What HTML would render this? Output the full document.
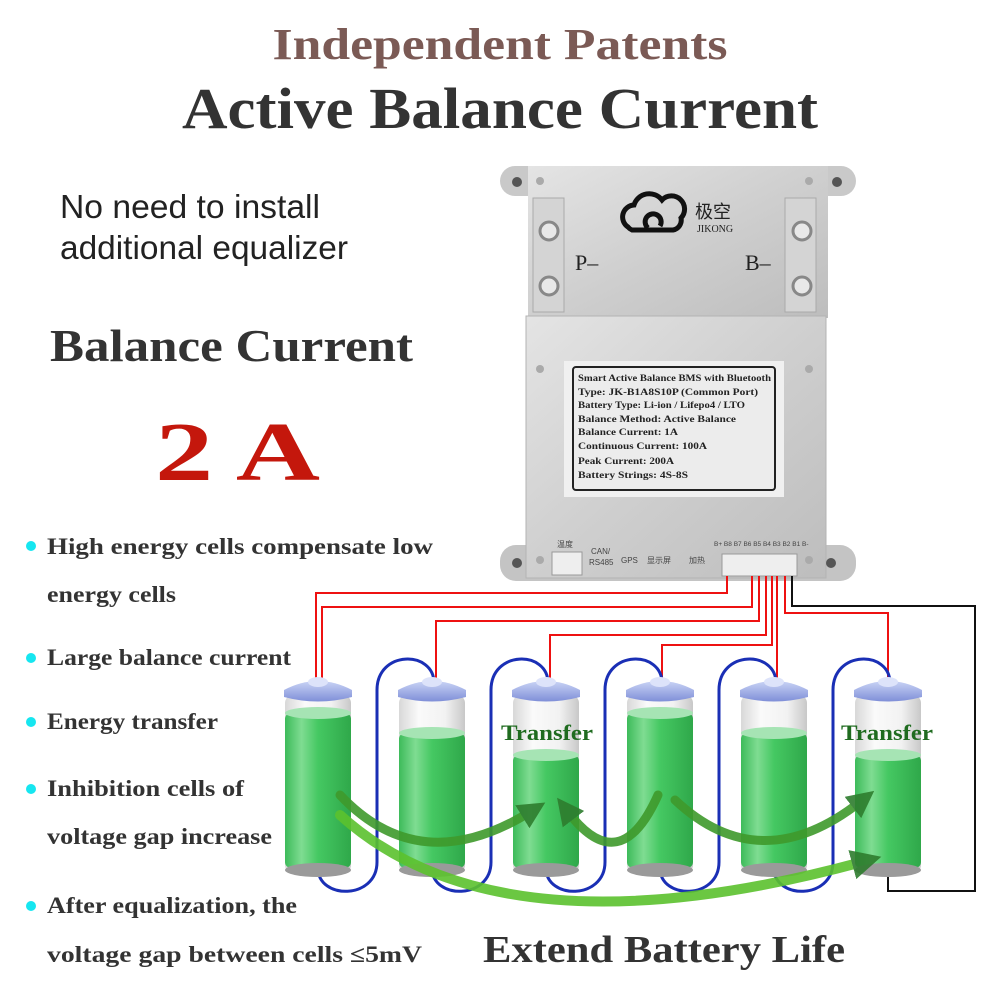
<!DOCTYPE html>
<html><head><meta charset="utf-8"><style>html,body{margin:0;padding:0;background:#fff}svg{display:block}</style></head>
<body>
<svg width="1000" height="1000" viewBox="0 0 1000 1000" xmlns="http://www.w3.org/2000/svg">
<defs>
<linearGradient id="plate" x1="0" y1="0" x2="1" y2="1"><stop offset="0" stop-color="#e4e4e4"/><stop offset="0.5" stop-color="#cfcfcf"/><stop offset="1" stop-color="#bdbdbd"/></linearGradient>
<linearGradient id="glass" x1="0" x2="1"><stop offset="0" stop-color="#d8d8d8"/><stop offset="0.3" stop-color="#fafafa"/><stop offset="0.7" stop-color="#f2f2f2"/><stop offset="1" stop-color="#c8c8c8"/></linearGradient>
<linearGradient id="green" x1="0" x2="1"><stop offset="0" stop-color="#3dbb5a"/><stop offset="0.25" stop-color="#7fdc92"/><stop offset="0.5" stop-color="#45c862"/><stop offset="1" stop-color="#2fa84a"/></linearGradient>
<linearGradient id="cap" x1="0" y1="0" x2="0" y2="1"><stop offset="0" stop-color="#c9d3f5"/><stop offset="1" stop-color="#7f8fd8"/></linearGradient>
<marker id="ah" markerWidth="3" markerHeight="3" refX="1" refY="1.5" orient="auto"><path d="M0,0 L3,1.5 L0,3 Z" fill="#2e7d2e"/></marker>
</defs>
<rect width="1000" height="1000" fill="#fff"/>

<g lengthAdjust="spacingAndGlyphs">
<text x="500" y="59" text-anchor="middle" font-family="Liberation Serif, serif" font-weight="bold" font-size="44" fill="#7b5a55" textLength="455" lengthAdjust="spacingAndGlyphs">Independent Patents</text>
<text x="500" y="128" text-anchor="middle" font-family="Liberation Serif, serif" font-weight="bold" font-size="58" fill="#333" textLength="636" lengthAdjust="spacingAndGlyphs">Active Balance Current</text>
<text x="60" y="218" font-family="Liberation Sans, sans-serif" font-size="33" fill="#222" textLength="260" lengthAdjust="spacingAndGlyphs">No need to install</text>
<text x="60" y="259" font-family="Liberation Sans, sans-serif" font-size="33" fill="#222" textLength="288" lengthAdjust="spacingAndGlyphs">additional equalizer</text>
<text x="50" y="361" font-family="Liberation Serif, serif" font-weight="bold" font-size="46" fill="#333" textLength="363" lengthAdjust="spacingAndGlyphs">Balance Current</text>
<text x="155" y="480" font-family="Liberation Serif, serif" font-weight="bold" font-size="84" fill="#c4170c" textLength="165" lengthAdjust="spacingAndGlyphs">2 A</text>
</g>

<g font-family="Liberation Serif, serif" font-weight="bold" font-size="23" fill="#333">
<circle cx="31" cy="546" r="5" fill="#16e6f0"/><text x="47" y="554" textLength="386" lengthAdjust="spacingAndGlyphs">High energy cells compensate low</text>
<text x="47" y="602" textLength="129" lengthAdjust="spacingAndGlyphs">energy cells</text>
<circle cx="31" cy="658" r="5" fill="#16e6f0"/><text x="47" y="665" textLength="244" lengthAdjust="spacingAndGlyphs">Large balance current</text>
<circle cx="31" cy="722" r="5" fill="#16e6f0"/><text x="47" y="729" textLength="171" lengthAdjust="spacingAndGlyphs">Energy transfer</text>
<circle cx="31" cy="789" r="5" fill="#16e6f0"/><text x="47" y="796" textLength="197" lengthAdjust="spacingAndGlyphs">Inhibition cells of</text>
<text x="47" y="844" textLength="225" lengthAdjust="spacingAndGlyphs">voltage gap increase</text>
<circle cx="31" cy="906" r="5" fill="#16e6f0"/><text x="47" y="913" textLength="250" lengthAdjust="spacingAndGlyphs">After equalization, the</text>
<text x="47" y="962" textLength="375" lengthAdjust="spacingAndGlyphs">voltage gap between cells ≤5mV</text>
</g>
<text x="483" y="962" font-family="Liberation Serif, serif" font-weight="bold" font-size="38" fill="#333" textLength="362" lengthAdjust="spacingAndGlyphs">Extend Battery Life</text>

<g>
<rect x="500" y="166" width="356" height="30" rx="15" fill="#c9c9c9"/>
<rect x="500" y="545" width="356" height="36" rx="16" fill="#c4c4c4"/>
<rect x="528" y="166" width="300" height="152" fill="url(#plate)"/>
<rect x="526" y="316" width="300" height="262" fill="url(#plate)" stroke="#b3b3b3"/>
<circle cx="517" cy="182" r="5" fill="#555"/><circle cx="837" cy="182" r="5" fill="#555"/>
<circle cx="517" cy="563" r="5" fill="#555"/><circle cx="831" cy="563" r="5" fill="#555"/>
<circle cx="540" cy="181" r="4" fill="#aaa"/><circle cx="809" cy="181" r="4" fill="#aaa"/>
<circle cx="540" cy="369" r="4" fill="#aaa"/><circle cx="809" cy="369" r="4" fill="#aaa"/>
<circle cx="540" cy="560" r="4" fill="#aaa"/><circle cx="809" cy="560" r="4" fill="#aaa"/>
<rect x="533" y="198" width="31" height="114" fill="#d4d4d4" stroke="#aaa"/>
<rect x="785" y="198" width="31" height="114" fill="#d4d4d4" stroke="#aaa"/>
<circle cx="549" cy="231" r="9" fill="#e8e8e8" stroke="#888" stroke-width="3"/><circle cx="549" cy="286" r="9" fill="#e8e8e8" stroke="#888" stroke-width="3"/>
<circle cx="802" cy="231" r="9" fill="#e8e8e8" stroke="#888" stroke-width="3"/><circle cx="802" cy="286" r="9" fill="#e8e8e8" stroke="#888" stroke-width="3"/>
<text x="575" y="270" font-family="Liberation Serif, serif" font-size="22" fill="#222">P–</text>
<text x="745" y="270" font-family="Liberation Serif, serif" font-size="22" fill="#222">B–</text>
<g fill="none" stroke="#111" stroke-width="5"><path d="M628,227 a12,12 0 0 1 6,-22 a16,16 0 0 1 28,-5 a12,12 0 0 1 19,18 a10,10 0 0 1 -8,12 L632,230 a10,10 0 0 1 -4,-3z"/><path d="M648,228 a8,8 0 1 1 12,-2"/></g>
<text x="695" y="218" font-family="Noto Sans CJK SC, sans-serif" font-size="18" fill="#222">极空</text>
<text x="697" y="232" font-family="Liberation Serif, serif" font-size="10" fill="#222">JIKONG</text>
<rect x="564" y="361" width="220" height="136" fill="#f0f0f0"/>
<rect x="573" y="367" width="202" height="123" rx="3" fill="#ececec" stroke="#222" stroke-width="2"/>
<g font-family="Liberation Serif, serif" font-weight="bold" font-size="9.5" fill="#222">
<text x="578" y="381" textLength="193" lengthAdjust="spacingAndGlyphs">Smart Active Balance BMS with Bluetooth</text>
<text x="578" y="395" textLength="180" lengthAdjust="spacingAndGlyphs">Type: JK-B1A8S10P (Common Port)</text>
<text x="578" y="408" textLength="167" lengthAdjust="spacingAndGlyphs">Battery Type: Li-ion / Lifepo4 / LTO</text>
<text x="578" y="422" textLength="158" lengthAdjust="spacingAndGlyphs">Balance Method: Active Balance</text>
<text x="578" y="435" textLength="100" lengthAdjust="spacingAndGlyphs">Balance Current: 1A</text>
<text x="578" y="449" textLength="129" lengthAdjust="spacingAndGlyphs">Continuous Current: 100A</text>
<text x="578" y="464" textLength="96" lengthAdjust="spacingAndGlyphs">Peak Current: 200A</text>
<text x="578" y="478" textLength="110" lengthAdjust="spacingAndGlyphs">Battery Strings: 4S-8S</text>
</g>
<g font-family="Liberation Sans, Noto Sans CJK SC, sans-serif" font-size="8" fill="#444">
<text x="557" y="547">温度</text><text x="591" y="554">CAN/</text><text x="589" y="565">RS485</text>
<text x="621" y="563">GPS</text><text x="647" y="563">显示屏</text><text x="689" y="563">加热</text>
<text x="714" y="546" font-size="6.5">B+ B8 B7 B6 B5 B4 B3 B2 B1 B-</text>
</g>
<rect x="552" y="552" width="30" height="23" fill="#eee" stroke="#999"/>
<rect x="722" y="554" width="75" height="22" fill="#eee" stroke="#999"/>
</g>

<g fill="none" stroke="#e11" stroke-width="2">
<path d="M316,682 V593 H727 V576"/>
<path d="M322,682 V607 H752 V576"/>
<path d="M436,682 V621 H759 V576"/>
<path d="M550,682 V635 H766 V576"/>
<path d="M662,682 V645 H772 V576"/>
<path d="M777,682 V576"/>
<path d="M888,682 V613 H785 V576"/>
</g>
<path d="M792,576 V606 H975 V891 H888 V860" fill="none" stroke="#111" stroke-width="2"/>

<g fill="none" stroke="#1a2fb5" stroke-width="3">
<path d="M318,868 C318,900 377,900 377,862 V690 C377,650 434,650 434,683"/>
<path d="M432,868 C432,900 491,900 491,862 V690 C491,650 548,650 548,683"/>
<path d="M546,868 C546,900 605,900 605,862 V690 C605,650 662,650 662,683"/>
<path d="M660,868 C660,900 719,900 719,862 V690 C719,650 776,650 776,683"/>
<path d="M774,868 C774,900 833,900 833,862 V690 C833,650 890,650 890,683"/>
</g>

<g>
<g transform="translate(318,0)"><rect x="-33" y="695" width="66" height="178" rx="8" fill="url(#glass)"/><rect x="-33" y="713" width="66" height="155" rx="6" fill="url(#green)"/><ellipse cx="0" cy="713" rx="33" ry="6" fill="#a6e4b4"/><ellipse cx="0" cy="870" rx="33" ry="7" fill="#9a9a9a"/><path d="M-34,697 V690 Q0,672 34,690 V697 Q0,706 -34,697Z" fill="url(#cap)"/><ellipse cx="0" cy="682" rx="10" ry="5" fill="#dde3fa"/></g>
<g transform="translate(432,0)"><rect x="-33" y="695" width="66" height="178" rx="8" fill="url(#glass)"/><rect x="-33" y="733" width="66" height="135" rx="6" fill="url(#green)"/><ellipse cx="0" cy="733" rx="33" ry="6" fill="#a6e4b4"/><ellipse cx="0" cy="870" rx="33" ry="7" fill="#9a9a9a"/><path d="M-34,697 V690 Q0,672 34,690 V697 Q0,706 -34,697Z" fill="url(#cap)"/><ellipse cx="0" cy="682" rx="10" ry="5" fill="#dde3fa"/></g>
<g transform="translate(546,0)"><rect x="-33" y="695" width="66" height="178" rx="8" fill="url(#glass)"/><rect x="-33" y="755" width="66" height="113" rx="6" fill="url(#green)"/><ellipse cx="0" cy="755" rx="33" ry="6" fill="#a6e4b4"/><ellipse cx="0" cy="870" rx="33" ry="7" fill="#9a9a9a"/><path d="M-34,697 V690 Q0,672 34,690 V697 Q0,706 -34,697Z" fill="url(#cap)"/><ellipse cx="0" cy="682" rx="10" ry="5" fill="#dde3fa"/></g>
<g transform="translate(660,0)"><rect x="-33" y="695" width="66" height="178" rx="8" fill="url(#glass)"/><rect x="-33" y="713" width="66" height="155" rx="6" fill="url(#green)"/><ellipse cx="0" cy="713" rx="33" ry="6" fill="#a6e4b4"/><ellipse cx="0" cy="870" rx="33" ry="7" fill="#9a9a9a"/><path d="M-34,697 V690 Q0,672 34,690 V697 Q0,706 -34,697Z" fill="url(#cap)"/><ellipse cx="0" cy="682" rx="10" ry="5" fill="#dde3fa"/></g>
<g transform="translate(774,0)"><rect x="-33" y="695" width="66" height="178" rx="8" fill="url(#glass)"/><rect x="-33" y="733" width="66" height="135" rx="6" fill="url(#green)"/><ellipse cx="0" cy="733" rx="33" ry="6" fill="#a6e4b4"/><ellipse cx="0" cy="870" rx="33" ry="7" fill="#9a9a9a"/><path d="M-34,697 V690 Q0,672 34,690 V697 Q0,706 -34,697Z" fill="url(#cap)"/><ellipse cx="0" cy="682" rx="10" ry="5" fill="#dde3fa"/></g>
<g transform="translate(888,0)"><rect x="-33" y="695" width="66" height="178" rx="8" fill="url(#glass)"/><rect x="-33" y="755" width="66" height="113" rx="6" fill="url(#green)"/><ellipse cx="0" cy="755" rx="33" ry="6" fill="#a6e4b4"/><ellipse cx="0" cy="870" rx="33" ry="7" fill="#9a9a9a"/><path d="M-34,697 V690 Q0,672 34,690 V697 Q0,706 -34,697Z" fill="url(#cap)"/><ellipse cx="0" cy="682" rx="10" ry="5" fill="#dde3fa"/></g>
</g>

<g fill="none" stroke-linecap="round">
<path d="M340,795 Q420,880 530,812" stroke="#3f9a2c" stroke-width="9" marker-end="url(#ah)" opacity="0.9"/>
<path d="M658,795 Q620,880 568,812" stroke="#3f9a2c" stroke-width="9" marker-end="url(#ah)" opacity="0.9"/>
<path d="M675,800 Q760,880 860,802" stroke="#3f9a2c" stroke-width="9" marker-end="url(#ah)" opacity="0.9"/>
<path d="M340,815 Q500,960 862,862" stroke="#5cc22e" stroke-width="10" marker-end="url(#ah)" opacity="0.9"/>
</g>
<g font-family="Liberation Serif, serif" font-weight="bold" font-size="22" fill="#1f6b1f">
<text x="501" y="740" textLength="92" lengthAdjust="spacingAndGlyphs">Transfer</text>
<text x="841" y="740" textLength="92" lengthAdjust="spacingAndGlyphs">Transfer</text>
</g>
</svg>
</body></html>
